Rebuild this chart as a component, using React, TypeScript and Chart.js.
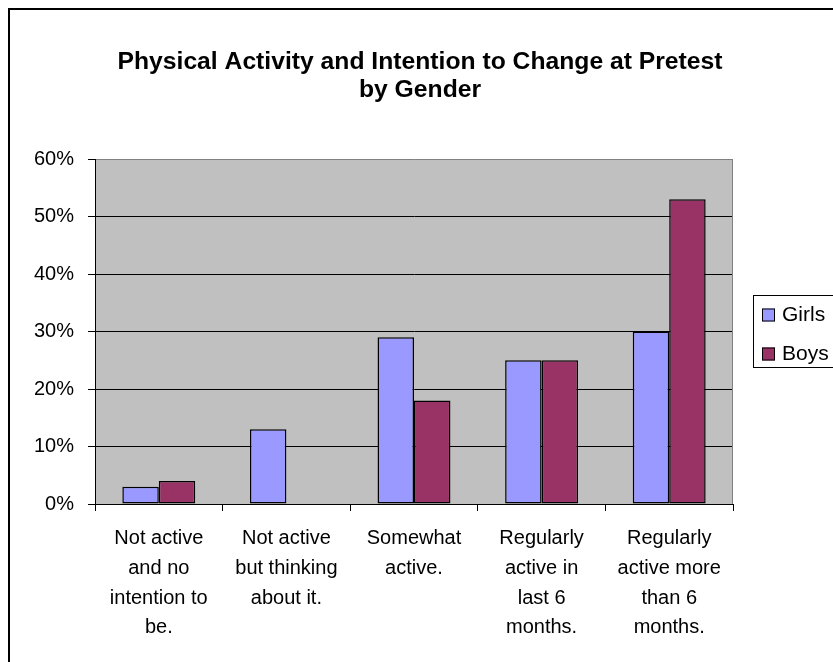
import React, { useEffect, useRef } from "react";
import { Chart, registerables } from "chart.js";

Chart.register(...registerables);

const FAMILY = "'Liberation Sans', Arial, Helvetica, sans-serif";

const titleLines = ["Physical Activity and Intention to Change at Pretest", "by Gender"];

const categories = [
  ["Not active", "and no", "intention to", "be."],
  ["Not active", "but thinking", "about it."],
  ["Somewhat", "active."],
  ["Regularly", "active in", "last 6", "months."],
  ["Regularly", "active more", "than 6", "months."],
];

const seriesNames = ["Girls", "Boys"];
const girls = [3, 13, 29, 25, 30];
const boys: (number | null)[] = [4, null, 18, 25, 53];
const seriesColors = ["#9999FF", "#993366"];

const yTicks = [0, 10, 20, 30, 40, 50, 60];

const W = 833;
const H = 662;

// Plot background, plot frame, title, legend and outer chart border
const decorPlugin = {
  id: "decor",
  beforeDraw(chart: any) {
    const { ctx, chartArea: a } = chart;
    ctx.save();
    ctx.fillStyle = "#C0C0C0";
    ctx.fillRect(a.left, a.top, a.right - a.left, a.bottom - a.top);
    ctx.restore();
  },
  afterDraw(chart: any) {
    const { ctx, chartArea: a } = chart;
    ctx.save();

    // right edge of the plot frame
    ctx.strokeStyle = "#808080";
    ctx.lineWidth = 1;
    ctx.beginPath();
    ctx.moveTo(Math.round(a.right) - 0.5, Math.round(a.top) + 0.5);
    ctx.lineTo(Math.round(a.right) - 0.5, Math.round(a.bottom));
    ctx.stroke();

    // title
    ctx.fillStyle = "#000";
    ctx.font = `bold 24.7px ${FAMILY}`;
    ctx.textAlign = "center";
    ctx.textBaseline = "middle";
    ctx.fillText(titleLines[0], 420, 62);
    ctx.fillText(titleLines[1], 420, 90);

    // legend
    const lx = 753;
    const ly = 295;
    ctx.strokeStyle = "#000";
    ctx.lineWidth = 1;
    ctx.strokeRect(lx + 0.5, ly + 0.5, 120, 72);
    ctx.font = `21px ${FAMILY}`;
    ctx.textAlign = "left";
    ctx.textBaseline = "middle";
    chart.data.datasets.forEach((ds: any, i: number) => {
      const cy = 314.5 + i * 39;
      ctx.fillStyle = ds.backgroundColor;
      ctx.fillRect(762, cy - 6, 13, 13);
      ctx.strokeRect(762.5, cy - 5.5, 12, 12);
      ctx.fillStyle = "#000";
      ctx.fillText(ds.label, 782, cy + 1);
    });

    // outer chart border
    ctx.lineWidth = 2;
    ctx.strokeStyle = "#000";
    ctx.strokeRect(9, 9, W + 20, H + 20);
    ctx.restore();
  },
};

export default function App() {
  const canvasRef = useRef<HTMLCanvasElement>(null);

  useEffect(() => {
    if (!canvasRef.current) return;
    const barStyle = {
      borderColor: "#000",
      borderWidth: 1.5,
      borderSkipped: false as const,
      categoryPercentage: 1 / 1.75,
      barPercentage: 1,
    };
    const chart = new Chart(canvasRef.current, {
      type: "bar",
      data: {
        labels: categories,
        datasets: [
          { label: seriesNames[0], data: girls, backgroundColor: seriesColors[0], ...barStyle },
          { label: seriesNames[1], data: boys, backgroundColor: seriesColors[1], ...barStyle },
        ],
      },
      options: {
        animation: false,
        responsive: false,
        devicePixelRatio: 1,
        layout: { padding: { left: 0, top: 159, right: 100, bottom: 0 } },
        plugins: {
          legend: { display: false },
          title: { display: false },
          tooltip: { enabled: false },
        },
        scales: {
          x: {
            grid: {
              display: true,
              drawOnChartArea: false,
              drawTicks: true,
              tickLength: 7,
              color: "#000",
              offset: true,
            },
            border: { display: true, color: "#000", width: 1 },
            ticks: {
              color: "#000",
              font: { family: FAMILY, size: 20, lineHeight: 29.6 / 20 },
              padding: 13,
              maxRotation: 0,
              autoSkip: false,
            },
            afterFit: (s: any) => {
              s.height = H - 504;
            },
          },
          y: {
            min: 0,
            max: 60,
            afterBuildTicks: (s: any) => {
              s.ticks = yTicks.map((v) => ({ value: v }));
            },
            ticks: {
              color: "#000",
              font: { family: FAMILY, size: 20 },
              padding: 14,
              callback: (v: any) => `${v}%`,
            },
            grid: {
              color: (c: any) => (c.tick && c.tick.value === 60 ? "#808080" : "#000"),
              tickColor: "#000",
              tickLength: 7,
              drawTicks: true,
            },
            border: { display: true, color: "#000", width: 1 },
            afterFit: (s: any) => {
              s.width = 95;
            },
          },
        },
      },
      plugins: [decorPlugin],
    });
    return () => chart.destroy();
  }, []);

  return (
    <div style={{ position: "absolute", left: 0, top: 0, width: W, height: H, background: "#fff" }}>
      <canvas ref={canvasRef} width={W} height={H} style={{ display: "block" }} />
    </div>
  );
}
